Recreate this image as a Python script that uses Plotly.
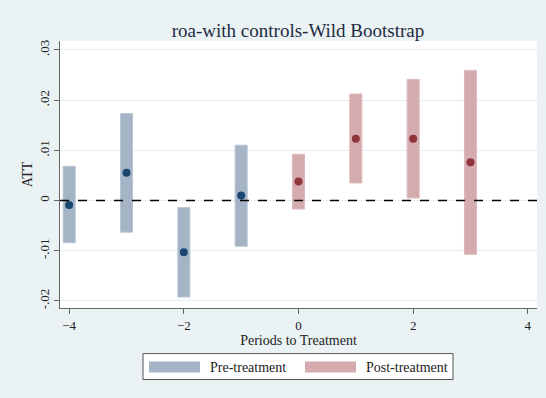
import plotly.graph_objects as go

pre_periods = [-4, -3, -2, -1]
pre_att = [-0.0009, 0.0055, -0.0103, 0.0010]
pre_lo = [-0.0084, -0.0063, -0.0192, -0.0091]
pre_hi = [0.0068, 0.0173, -0.0014, 0.0110]

post_periods = [0, 1, 2, 3]
post_att = [0.0038, 0.0123, 0.0123, 0.0076]
post_lo = [-0.0017, 0.0035, 0.0005, -0.0107]
post_hi = [0.0092, 0.0212, 0.0241, 0.0259]

y_ticks = [-0.02, -0.01, 0, 0.01, 0.02, 0.03]
y_ticklabels = ["-.02", "-.01", "0", ".01", ".02", ".03"]
x_ticks = [-4, -2, 0, 2, 4]

PRE_BAR = "#a4b4c5"
PRE_PT = "#1a476f"
POST_BAR = "#d4abaf"
POST_PT = "#90353b"
BG = "#eaf2f3"
SERIF = "Liberation Serif"

fig = go.Figure()
fig.add_trace(go.Bar(
    x=pre_periods, y=[h - l for h, l in zip(pre_hi, pre_lo)], base=pre_lo,
    width=0.21, marker=dict(color=PRE_BAR, line=dict(color="#b8c5d3", width=1)),
    showlegend=False, hoverinfo="skip"))
fig.add_trace(go.Bar(
    x=post_periods, y=[h - l for h, l in zip(post_hi, post_lo)], base=post_lo,
    width=0.21, marker=dict(color=POST_BAR, line=dict(color="#dcbabd", width=1)),
    showlegend=False, hoverinfo="skip"))
fig.add_trace(go.Scatter(
    x=pre_periods, y=pre_att, mode="markers",
    marker=dict(color=PRE_PT, size=8), showlegend=False))
fig.add_trace(go.Scatter(
    x=post_periods, y=post_att, mode="markers",
    marker=dict(color=POST_PT, size=8), showlegend=False))

fig.add_shape(type="line", xref="paper", yref="y", x0=0, x1=1, y0=0, y1=0,
              line=dict(color="black", width=1.3, dash="dash"))

# manual legend
fig.add_shape(type="rect", xref="paper", yref="paper",
              x0=(143 - 60) / 477, x1=(453 - 60) / 477,
              y0=-(380 - 308.3) / 267.6, y1=-(354 - 308.3) / 267.6,
              line=dict(color="#555555", width=1), fillcolor="white", layer="above")
fig.add_shape(type="rect", xref="paper", yref="paper",
              x0=(149 - 60) / 477, x1=(200 - 60) / 477,
              y0=-(373 - 308.3) / 267.6, y1=-(362 - 308.3) / 267.6,
              line=dict(width=0), fillcolor=PRE_BAR, layer="above")
fig.add_shape(type="rect", xref="paper", yref="paper",
              x0=(305 - 60) / 477, x1=(356 - 60) / 477,
              y0=-(373 - 308.3) / 267.6, y1=-(362 - 308.3) / 267.6,
              line=dict(width=0), fillcolor=POST_BAR, layer="above")
fig.add_annotation(xref="paper", yref="paper", x=(208 - 60) / 477, y=-(367.5 - 308.3) / 267.6,
                   text="Pre-treatment", showarrow=False, xanchor="left", yanchor="middle",
                   font=dict(family=SERIF, size=14, color="#222222"))
fig.add_annotation(xref="paper", yref="paper", x=(364 - 60) / 477, y=-(367.5 - 308.3) / 267.6,
                   text="Post-treatment", showarrow=False, xanchor="left", yanchor="middle",
                   font=dict(family=SERIF, size=14, color="#222222"))

fig.update_layout(
    width=546, height=398,
    margin=dict(l=60, r=9, t=41, b=90),
    paper_bgcolor=BG, plot_bgcolor="white",
    barmode="overlay",
    title=dict(text="roa-with controls-Wild Bootstrap", x=298 / 546, xanchor="center",
               y=1 - 30 / 398, yanchor="middle",
               font=dict(family=SERIF, size=19, color="#1f2a44")),
    font=dict(family=SERIF, size=13, color="#222222"),
    xaxis=dict(range=[-4.16, 4.16], tickvals=x_ticks, ticks="outside", ticklen=5,
               tickcolor="#666666", showgrid=False, zeroline=False,
               showline=True, linecolor="#666666", linewidth=1,
               tickfont=dict(family=SERIF, size=13, color="#222222"),
               title=dict(text="Periods to Treatment", standoff=3,
                          font=dict(family=SERIF, size=14, color="#222222"))),
    yaxis=dict(range=[-0.0214, 0.03175], tickvals=y_ticks, ticktext=y_ticklabels,
               ticks="outside", ticklen=5, tickcolor="#666666", tickangle=-90,
               showgrid=True, gridcolor="#e6eef0", gridwidth=1, zeroline=False,
               showline=True, linecolor="#666666", linewidth=1,
               tickfont=dict(family=SERIF, size=13, color="#222222"),
               title=dict(text="ATT", standoff=0,
                          font=dict(family=SERIF, size=14, color="#222222"))),
)

fig.write_html("out.html")
